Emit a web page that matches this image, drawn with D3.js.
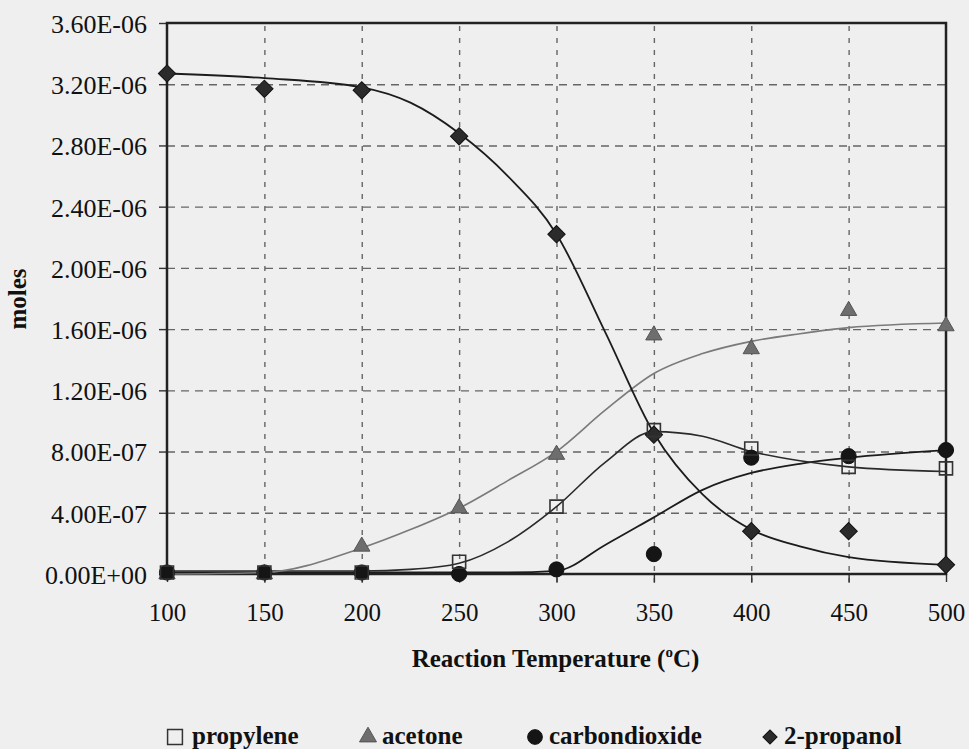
<!DOCTYPE html>
<html>
<head>
<meta charset="utf-8">
<script src="https://cdn.jsdelivr.net/npm/d3@7"></script>
<style>
  body { margin: 0; background: #efefef; }
  svg { display: block; }
  svg text { font-family: "Liberation Serif", Tinos, "Times New Roman", Times, "Nimbus Roman", "DejaVu Serif", serif !important; fill: #111; }
</style>
</head>
<body>
<div id="chart"></div>
<script>
// measured points (moles)
const temps = [100, 150, 200, 250, 300, 350, 400, 450, 500]
const propylene = [0.01e-6, 0.01e-6, 0.01e-6, 0.08e-6, 0.44e-6, 0.94e-6, 0.82e-6, 0.70e-6, 0.69e-6]
const acetone = [0.0, 0.0, 0.18e-6, 0.43e-6, 0.78e-6, 1.56e-6, 1.47e-6, 1.72e-6, 1.62e-6]
const carbondioxide = [0.01e-6, 0.01e-6, 0.01e-6, 0.0, 0.03e-6, 0.13e-6, 0.76e-6, 0.77e-6, 0.81e-6]
const propanol = [3.27e-6, 3.17e-6, 3.16e-6, 2.86e-6, 2.22e-6, 0.91e-6, 0.28e-6, 0.28e-6, 0.06e-6]

// trend curves
const fitTemps = [100, 150, 200, 225, 250, 275, 300, 325, 350, 375, 400, 425, 450, 500]
const propyleneFit = [0.02e-6, 0.02e-6, 0.02e-6, 0.03e-6, 0.07e-6, 0.21e-6, 0.44e-6, 0.73e-6, 0.93e-6, 0.90e-6, 0.80e-6, 0.74e-6, 0.70e-6, 0.67e-6]
const acetoneFit = [0.0, 0.01e-6, 0.17e-6, 0.29e-6, 0.43e-6, 0.61e-6, 0.80e-6, 1.07e-6, 1.31e-6, 1.44e-6, 1.52e-6, 1.57e-6, 1.61e-6, 1.64e-6]
const carbondioxideFit = [0.01e-6, 0.01e-6, 0.01e-6, 0.01e-6, 0.01e-6, 0.01e-6, 0.02e-6, 0.19e-6, 0.37e-6, 0.55e-6, 0.66e-6, 0.72e-6, 0.76e-6, 0.81e-6]
const propanolFit = [3.27e-6, 3.24e-6, 3.18e-6, 3.08e-6, 2.88e-6, 2.60e-6, 2.22e-6, 1.58e-6, 0.92e-6, 0.52e-6, 0.29e-6, 0.18e-6, 0.11e-6, 0.06e-6]

const xTicks = [100, 150, 200, 250, 300, 350, 400, 450, 500]
const yTicks = [0, 0.4e-6, 0.8e-6, 1.2e-6, 1.6e-6, 2.0e-6, 2.4e-6, 2.8e-6, 3.2e-6, 3.6e-6]
const seriesNames = ['propylene', 'acetone', 'carbondioxide', '2-propanol']

var margin = { top: 23, right: 23, bottom: 175, left: 167 }
var width = 969 - margin.left - margin.right
var height = 749 - margin.top - margin.bottom

var root = d3
  .select('#chart')
  .append('svg')
  .attr('width', 969)
  .attr('height', 749)

root.append('rect').attr('width', 969).attr('height', 749).attr('fill', '#efefef')

var svg = root
  .append('g')
  .attr('transform', 'translate(' + margin.left + ',' + margin.top + ')')

const x = d3.scaleLinear().domain([100, 500]).range([0, width])
const y = d3.scaleLinear().domain([0, 3.6e-6]).range([height, 0])

function sci(v) {
  if (v === 0) return '0.00E+00'
  var parts = v.toExponential(2).split('e')
  var exp = +parts[1]
  var sign = exp < 0 ? '-' : '+'
  return parts[0] + 'E' + sign + String(Math.abs(exp)).padStart(2, '0')
}

// grid
svg
  .append('g')
  .attr('class', 'grid-y')
  .call(d3.axisLeft(y).tickValues(yTicks.slice(1, -1)).tickSize(-width).tickFormat(''))
  .call(g => g.select('.domain').remove())
  .selectAll('line')
  .attr('stroke', '#666')
  .attr('stroke-width', 1.4)
  .attr('stroke-dasharray', '8,6')

svg
  .append('g')
  .attr('class', 'grid-x')
  .attr('transform', 'translate(0,' + height + ')')
  .call(d3.axisBottom(x).tickValues(xTicks.slice(1, -1)).tickSize(-height - 9).tickFormat(''))
  .call(g => g.select('.domain').remove())
  .selectAll('line')
  .attr('transform', 'translate(0,9)')
  .attr('stroke', '#666')
  .attr('stroke-width', 1.4)
  .attr('stroke-dasharray', '5,7')

// axes
var yAxis = d3.axisLeft(y).tickValues(yTicks).tickSize(8).tickPadding(12).tickFormat(sci)
svg
  .append('g')
  .attr('class', 'axis y-axis')
  .call(yAxis)
  .attr('font-family', null)
  .call(g => g.select('.domain').remove())
  .call(g => g.selectAll('line').attr('stroke', '#333').attr('stroke-width', 1.4))
  .call(g => g.selectAll('text').attr('font-size', 26).attr('dy', '0.36em').attr('fill', '#111'))

var xAxis = d3.axisBottom(x).tickValues(xTicks).tickSize(8).tickPadding(21).tickFormat(d3.format('d'))
svg
  .append('g')
  .attr('class', 'axis x-axis')
  .attr('transform', 'translate(0,' + height + ')')
  .call(xAxis)
  .attr('font-family', null)
  .call(g => g.select('.domain').remove())
  .call(g => g.selectAll('line').attr('stroke', '#333').attr('stroke-width', 1.4))
  .call(g => g.selectAll('text').attr('font-size', 25).attr('fill', '#111'))

// frame
svg
  .append('rect')
  .attr('width', width)
  .attr('height', height)
  .attr('fill', 'none')
  .attr('stroke', '#222')
  .attr('stroke-width', 2.5)

// trend lines
const line = d3
  .line()
  .x(d => x(d[0]))
  .y(d => y(d[1]))
  .curve(d3.curveMonotoneX)

const fits = [
  { vals: carbondioxideFit, color: '#1c1c1c', w: 1.8 },
  { vals: propyleneFit, color: '#2a2a2a', w: 1.6 },
  { vals: acetoneFit, color: '#7a7a7a', w: 1.6 },
  { vals: propanolFit, color: '#1c1c1c', w: 1.8 }
]

fits.forEach(f => {
  svg
    .append('path')
    .datum(fitTemps.map((t, i) => [t, f.vals[i]]))
    .attr('fill', 'none')
    .attr('stroke', f.color)
    .attr('stroke-width', f.w)
    .attr('d', line)
})

// markers
const markers = [
  { vals: propanol, type: d3.symbolSquare, size: 150, rotate: 45, fill: '#2b2b2b', stroke: '#111', sw: 1 },
  { vals: acetone, type: d3.symbolTriangle, size: 115, rotate: 0, fill: '#6e6e6e', stroke: '#555', sw: 1 },
  { vals: carbondioxide, type: d3.symbolCircle, size: 180, rotate: 0, fill: '#151515', stroke: '#111', sw: 1 },
  { vals: propylene, type: d3.symbolSquare, size: 170, rotate: 0, fill: 'none', stroke: '#333', sw: 1.6 }
]

markers.forEach(m => {
  svg
    .append('g')
    .selectAll('path')
    .data(temps.map((t, i) => [t, m.vals[i]]))
    .enter()
    .append('path')
    .attr('d', d3.symbol().type(m.type).size(m.size))
    .attr('transform', d => 'translate(' + x(d[0]) + ',' + y(d[1]) + ') rotate(' + m.rotate + ')')
    .attr('fill', m.fill)
    .attr('stroke', m.stroke)
    .attr('stroke-width', m.sw)
})

// axis titles
var xTitle = root
  .append('text')
  .attr('x', margin.left + width / 2 - 1)
  .attr('y', 667)
  .attr('text-anchor', 'middle')
  .attr('font-size', 25)
  .attr('font-weight', 'bold')
xTitle.append('tspan').text('Reaction Temperature (')
xTitle.append('tspan').attr('font-size', 15).attr('dy', -10).text('o')
xTitle.append('tspan').attr('dy', 10).text('C)')

root
  .append('text')
  .attr('transform', 'translate(26,299) rotate(-90)')
  .attr('text-anchor', 'middle')
  .attr('font-size', 25)
  .attr('font-weight', 'bold')
  .text('moles')

// legend
const legendItems = [
  { name: seriesNames[0], type: d3.symbolSquare, size: 220, rotate: 0, fill: 'none', stroke: '#333', sw: 1.5, sx: 175, tx: 192 },
  { name: seriesNames[1], type: d3.symbolTriangle, size: 125, rotate: 0, fill: '#6e6e6e', stroke: '#555', sw: 1, sx: 368, tx: 382 },
  { name: seriesNames[2], type: d3.symbolCircle, size: 170, rotate: 0, fill: '#151515', stroke: '#111', sw: 1, sx: 535, tx: 549 },
  { name: seriesNames[3], type: d3.symbolSquare, size: 100, rotate: 45, fill: '#2b2b2b', stroke: '#111', sw: 1, sx: 770, tx: 784 }
]

var legend = root.append('g').attr('class', 'legend')
legendItems.forEach(l => {
  legend
    .append('path')
    .attr('d', d3.symbol().type(l.type).size(l.size))
    .attr('transform', 'translate(' + l.sx + ',737) rotate(' + l.rotate + ')')
    .attr('fill', l.fill)
    .attr('stroke', l.stroke)
    .attr('stroke-width', l.sw)
  legend
    .append('text')
    .attr('x', l.tx)
    .attr('y', 744)
    .attr('font-size', 25)
    .attr('font-weight', 'bold')
    .text(l.name)
})
</script>
</body>
</html>
